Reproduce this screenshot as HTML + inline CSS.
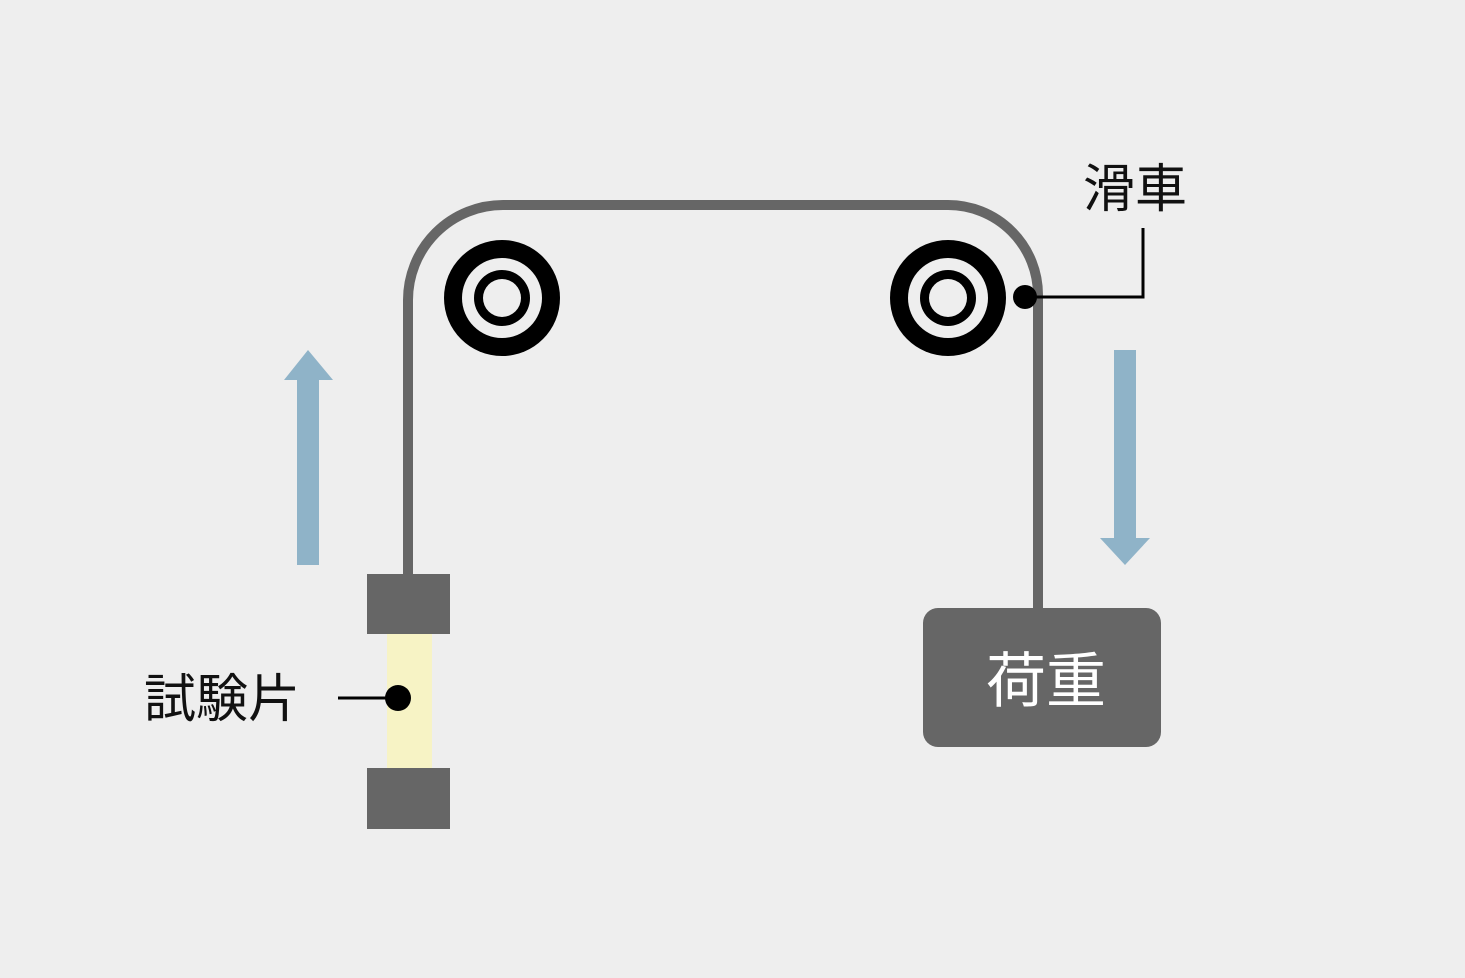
<!DOCTYPE html>
<html><head><meta charset="utf-8"><style>
html,body{margin:0;padding:0;background:#eeeeee;}
svg{display:block;}
text{font-family:"Liberation Sans","Noto Sans CJK JP",sans-serif;}
</style></head><body>
<svg width="1465" height="978" viewBox="0 0 1465 978" xmlns="http://www.w3.org/2000/svg">
<rect width="1465" height="978" fill="#eeeeee"/>
<path d="M408 578 V300 A95 95 0 0 1 503 205 H948 A90 90 0 0 1 1038 295 V612" fill="none" stroke="#666" stroke-width="10"/>
<g>
<circle cx="502" cy="298" r="58" fill="#000"/><circle cx="502" cy="298" r="40" fill="#eee"/><circle cx="502" cy="298" r="28" fill="#000"/><circle cx="502" cy="298" r="19" fill="#eee"/>
</g>
<g>
<circle cx="948" cy="298" r="58" fill="#000"/><circle cx="948" cy="298" r="40" fill="#eee"/><circle cx="948" cy="298" r="28" fill="#000"/><circle cx="948" cy="298" r="19" fill="#eee"/>
</g>
<circle cx="1025" cy="297" r="12" fill="#000"/>
<polyline points="1025,297 1143,297 1143,228" fill="none" stroke="#000" stroke-width="3"/>
<text x="1083" y="207" font-size="52" fill="#111">滑車</text>
<rect x="367" y="574" width="83" height="60" fill="#666"/>
<rect x="387" y="634" width="45" height="134" fill="#f7f3c5"/>
<rect x="367" y="768" width="83" height="61" fill="#666"/>
<line x1="338" y1="698" x2="398" y2="698" stroke="#000" stroke-width="3"/>
<circle cx="398" cy="698" r="13" fill="#000"/>
<text x="144" y="717" font-size="52" fill="#111">試験片</text>
<rect x="923" y="608" width="238" height="139" rx="15" fill="#666"/>
<text x="1046" y="702" font-size="60" fill="#fff" text-anchor="middle">荷重</text>
<rect x="297" y="378" width="22" height="187" fill="#8fb3c8"/>
<polygon points="284,380 333,380 308,350" fill="#8fb3c8"/>
<rect x="1114" y="350" width="22" height="190" fill="#8fb3c8"/>
<polygon points="1100,538 1150,538 1125,565" fill="#8fb3c8"/>
</svg>
</body></html>
